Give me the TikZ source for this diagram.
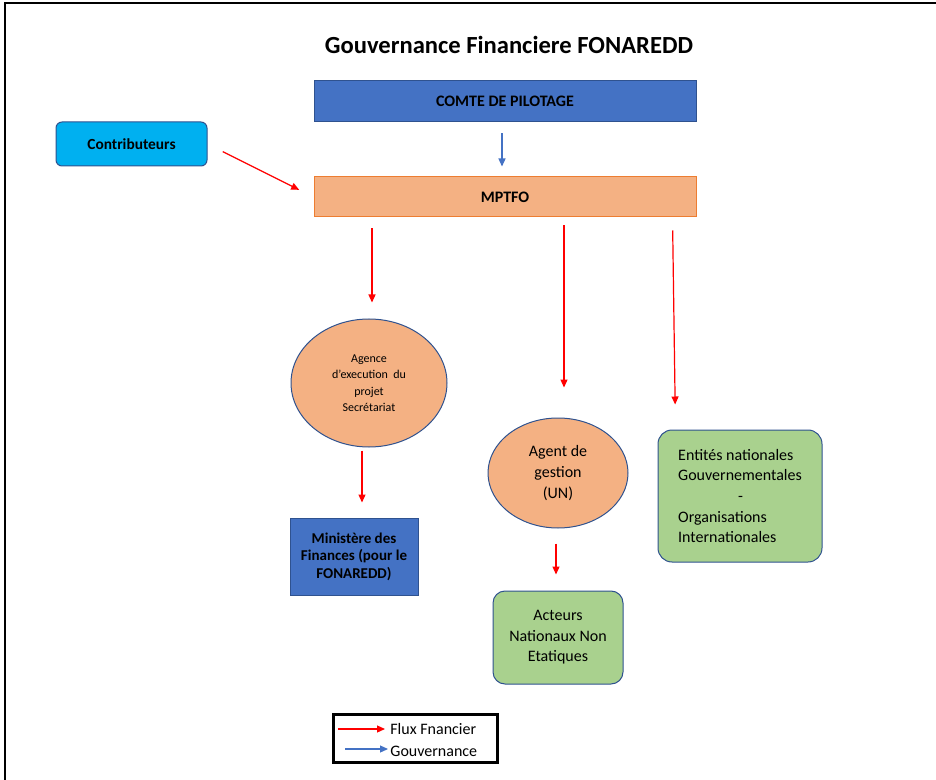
\documentclass[tikz,border=0pt]{standalone}
\usepackage{fontspec}
\setmainfont{Carlito}
\usetikzlibrary{arrows.meta, shapes.geometric, positioning}

\definecolor{bleu}{HTML}{4472C4}
\definecolor{bleufonce}{HTML}{2F528F}
\definecolor{ciel}{HTML}{00B0F0}
\definecolor{saumon}{HTML}{F4B183}
\definecolor{orange}{HTML}{ED7D31}
\definecolor{vertclair}{HTML}{A9D18E}
\definecolor{rouge}{HTML}{FF0000}

\begin{document}
\begin{tikzpicture}[
    x=0.5pt, y=-0.5pt,
    boite/.style={rectangle, draw=bleufonce, line width=0.5pt, align=center, inner sep=1pt, font=\bfseries\fontsize{8}{9.5}\selectfont},
    rond/.style={ellipse, draw=bleufonce, fill=saumon, line width=0.5pt, align=center, inner sep=0pt},
    vert/.style={rectangle, rounded corners=6pt, draw=bleufonce, fill=vertclair, line width=0.5pt, inner sep=1pt, font=\fontsize{8}{10.3}\selectfont},
    flux/.style={draw=rouge, line width=0.6pt, -{Triangle[length=4pt, width=3.5pt]}},
    gouv/.style={draw=bleu, line width=0.6pt, -{Triangle[length=4pt, width=3.5pt]}}
]
    \useasboundingbox (0,0) rectangle (936,780);
    \draw[line width=0.8pt] (5,780) -- (5,3) -- (936,3);

    \node[font=\bfseries\fontsize{12.3}{14}\selectfont] (titre) at (509,45) {Gouvernance Financiere FONAREDD};

    \node[boite, fill=bleu, minimum width=191pt, minimum height=20.5pt] (comite) at (505,101.5) {COMTE DE PILOTAGE};
    \node[boite, fill=ciel, rounded corners=3pt, minimum width=75.5pt, minimum height=22pt, font=\bfseries\fontsize{7.7}{9}\selectfont] (contrib) at (131.5,144) {Contributeurs};
    \node[boite, fill=saumon, draw=orange, minimum width=191pt, minimum height=20pt] (mptfo) at (505,197) {MPTFO};

    \node[rond, minimum width=78pt, minimum height=64pt, font=\fontsize{6}{8.2}\selectfont] (agence) at (369,383) {Agence\\d'execution\ \ du\\projet\\Secrétariat};
    \node[boite, fill=bleu, minimum width=64pt, minimum height=38.5pt, font=\bfseries\fontsize{7.5}{8.7}\selectfont] (ministere) at (354,556.5) {Ministère des\\Finances (pour le\\FONAREDD)};

    \node[rond, minimum width=70pt, minimum height=55pt, font=\fontsize{8}{10.3}\selectfont] (agent) at (558,473) {Agent de\\gestion\\(UN)};
    \node[vert, align=center, minimum width=65pt, minimum height=46.5pt] (acteurs) at (558,637.5) {Acteurs\\Nationaux Non\\Etatiques};

    \node[vert, align=left, rounded corners=7pt, minimum width=82pt, minimum height=66pt] (entites) at (740,496) {Entités nationales\\Gouvernementales\\\hspace*{30pt}-\\Organisations\\Internationales};

    % fleches
    \draw[gouv, shorten <=5.5pt, shorten >=5pt] ([xshift=-1.5pt]comite.south) -- ([xshift=-1.5pt]mptfo.north);
    \draw[flux, shorten <=8.5pt, shorten >=8pt] (contrib.east) -- (mptfo.west);
    \draw[flux, shorten <=5.5pt, shorten >=8pt] ([xshift=1.5pt]agence.north |- mptfo.south) -- ([xshift=1.5pt]agence.north);
    \draw[flux, shorten <=4pt, shorten >=15pt] ([xshift=3pt]agent.north |- mptfo.south) -- ([xshift=3pt]agent.north);
    \draw[flux, shorten <=6.5pt, shorten >=12.5pt] ([xshift=-12pt]mptfo.south east) -- ([xshift=9pt]entites.north west);
    \draw[flux, shorten <=1.5pt, shorten >=7.5pt] ([xshift=-3.5pt]agence.south) -- ([xshift=4pt]ministere.north);
    \draw[flux, shorten <=7.5pt, shorten >=8pt] ([xshift=-1pt]agent.south) -- ([xshift=-1pt]acteurs.north);

    % legende
    \node[draw, line width=1.5pt, minimum width=82pt, minimum height=24pt] (legende) at (415,738) {};
    \node[anchor=west, inner sep=0pt, font=\fontsize{8}{9}\selectfont] (ff) at (390,729) {Flux Fnancier};
    \node[anchor=west, inner sep=0pt, font=\fontsize{8}{9}\selectfont] (gv) at (390,751) {Gouvernance};
    \coordinate (ffdebut) at (338,729);
    \coordinate (gvdebut) at (345,749);
    \draw[flux, shorten >=2.5pt] (ffdebut) -- (ff.west);
    \draw[gouv, shorten >=1pt] (gvdebut) -- (gvdebut -| gv.west);
\end{tikzpicture}
\end{document}
